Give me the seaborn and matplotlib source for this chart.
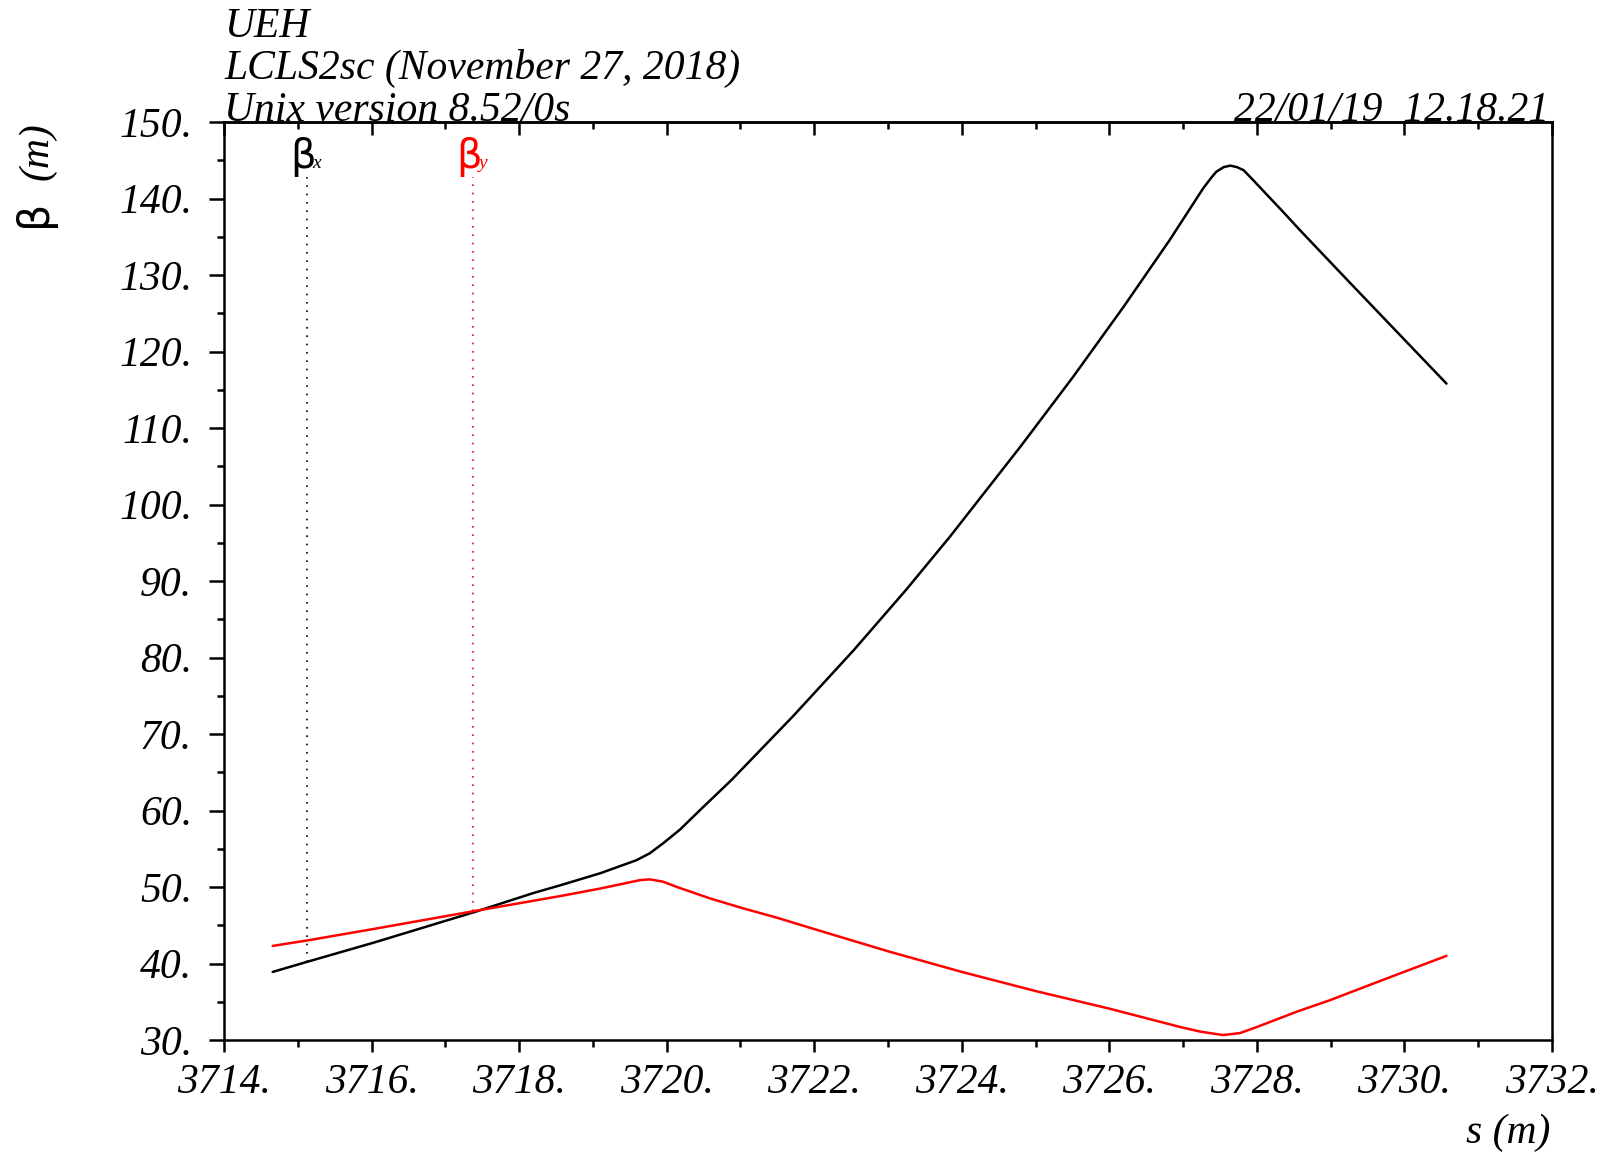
import numpy as np
import pandas as pd
import matplotlib.pyplot as plt
from matplotlib.ticker import MultipleLocator, FuncFormatter
import seaborn as sns

# beta functions (s and beta in metres)
s_x = [3714.66, 3715.12, 3716.02, 3717.42, 3718.19, 3718.55, 3719.10, 3719.59,
       3719.77, 3719.95, 3720.18, 3720.50, 3720.88, 3721.72, 3722.53, 3723.25,
       3723.84, 3724.79, 3725.51, 3726.19, 3726.82, 3727.27, 3727.38, 3727.45,
       3727.55, 3727.64, 3727.73, 3727.82, 3727.95, 3728.36, 3728.58, 3729.26,
       3730.57]
beta_x = [38.9, 40.2, 42.7, 46.8, 49.2, 50.2, 51.8, 53.5,
          54.4, 55.7, 57.5, 60.5, 64.0, 72.4, 80.9, 88.9,
          95.8, 107.5, 116.7, 125.8, 134.6, 141.3, 142.7, 143.5,
          144.1, 144.3, 144.1, 143.7, 142.4, 138.2, 135.9, 129.0,
          115.8]

s_y = [3714.66, 3715.12, 3716.02, 3717.42, 3718.55, 3719.10, 3719.64, 3719.77,
       3719.95, 3720.14, 3720.59, 3721.04, 3721.49, 3722.00, 3723.00, 3724.00,
       3725.00, 3726.00, 3726.96, 3727.23, 3727.54, 3727.77, 3728.00, 3728.54,
       3728.99, 3729.53, 3729.98, 3730.57]
beta_y = [42.3, 43.0, 44.5, 46.9, 48.8, 49.8, 50.9, 51.0,
          50.7, 50.0, 48.5, 47.2, 46.0, 44.5, 41.6, 38.9,
          36.4, 34.1, 31.7, 31.1, 30.65, 30.9, 31.7, 33.7,
          35.2, 37.2, 38.85, 41.0]

# curve labels
label_s = [3715.12, 3717.37]
label_sub = ['x', 'y']
label_colors = ['black', 'red']

header = ['UEH', 'LCLS2sc (November 27, 2018)', 'Unix version 8.52/0s']
stamp = '22/01/19  12.18.21'

df_x = pd.DataFrame({'s': s_x, 'beta': beta_x})
df_y = pd.DataFrame({'s': s_y, 'beta': beta_y})

sns.set_style("ticks")
plt.rcParams['font.family'] = ['Liberation Serif', 'DejaVu Sans']
for key in ['text.color', 'axes.labelcolor', 'xtick.color', 'ytick.color',
            'axes.edgecolor']:
    plt.rcParams[key] = 'black'

W, H = 1606, 1154
fig = plt.figure(figsize=(W / 100, H / 100), dpi=100)
ax = fig.add_axes([224 / W, 1 - 1040 / H, 1328 / W, 918 / H])

sns.lineplot(data=df_x, x='s', y='beta', ax=ax, color='black', lw=1.8,
             sort=False, estimator=None)
sns.lineplot(data=df_y, x='s', y='beta', ax=ax, color='#ff0000', lw=1.8,
             sort=False, estimator=None)

# dotted markers from the label down to each curve
curves = [(s_x, beta_x), (s_y, beta_y)]
for (cs, cb), s0, sub, col in zip(curves, label_s, label_sub, label_colors):
    b0 = np.interp(s0, cs, cb)
    ax.vlines(s0, b0, 142.8, colors=col, lw=1.2, linestyles=(0, (1, 4)))
    ax.annotate('β', (s0, 142.8), xytext=(-4, 0), textcoords='offset pixels',
                ha='center', va='bottom', color=col, fontsize=29,
                family='DejaVu Sans')
    ax.annotate(sub, (s0, 142.8), xytext=(6, 9), textcoords='offset pixels',
                ha='left', va='baseline', color=col, fontsize=14,
                style='italic')

ax.set_xlim(3714, 3732)
ax.set_ylim(30, 150)
ax.set_xlabel('')
ax.set_ylabel('')

fmt = FuncFormatter(lambda v, p: f"{v:.0f}.")
ax.xaxis.set_major_locator(MultipleLocator(2))
ax.xaxis.set_minor_locator(MultipleLocator(1))
ax.yaxis.set_major_locator(MultipleLocator(10))
ax.yaxis.set_minor_locator(MultipleLocator(5))
ax.xaxis.set_major_formatter(fmt)
ax.yaxis.set_major_formatter(fmt)

for sp in ax.spines.values():
    sp.set_visible(True)
    sp.set_linewidth(1.8)
    sp.set_color('black')

ax.tick_params(axis='x', which='major', direction='out', length=8.6, width=1.8,
               labelsize=30, pad=8)
ax.tick_params(axis='x', which='minor', direction='out', length=5, width=1.8)
ax.tick_params(axis='y', which='major', direction='out', length=11, width=1.8,
               labelsize=30, pad=12)
ax.tick_params(axis='y', which='minor', direction='out', length=5, width=1.8)
for lab in ax.get_xticklabels() + ax.get_yticklabels():
    lab.set_fontstyle('italic')

top = ax.secondary_xaxis('top')
top.xaxis.set_major_locator(MultipleLocator(2))
top.xaxis.set_minor_locator(MultipleLocator(1))
top.tick_params(which='major', direction='in', length=9.4, width=1.8,
                labeltop=False, color='black')
top.tick_params(which='minor', direction='in', length=5, width=1.8,
                color='black')
top.spines['top'].set_linewidth(1.8)

# header text
for i, line in enumerate(header):
    fig.text(224 / W, 1 - (37 + 42 * i) / H, line, fontsize=30,
             style='italic', ha='left', va='baseline')
fig.text(1549 / W, 1 - 121 / H, stamp, fontsize=30, style='italic',
         ha='right', va='baseline')

# axis labels
fig.text(1550 / W, 1 - 1143 / H, 's (m)', fontsize=30, style='italic',
         ha='right', va='baseline')
fig.text(37 / W, 1 - 122 / H, '(m)', fontsize=30, style='italic',
         rotation=90, ha='center', va='top')
fig.text(34 / W, 1 - 200 / H, 'β', fontsize=31, family='DejaVu Sans',
         rotation=90, ha='center', va='top')

fig.savefig('out.png', dpi=100)
